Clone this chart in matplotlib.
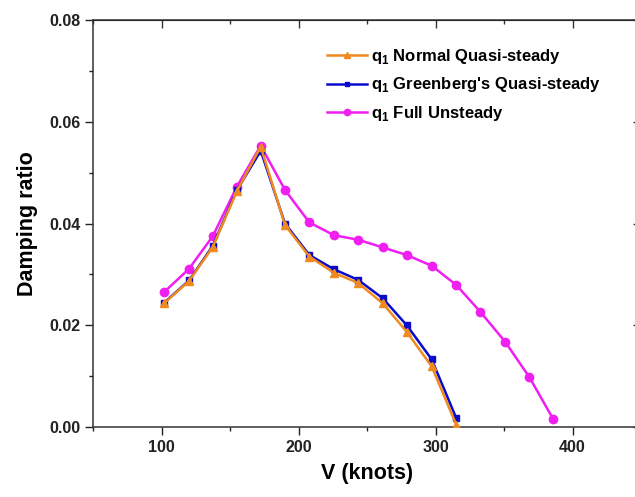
import matplotlib
matplotlib.use("Agg")
import matplotlib.pyplot as plt
from matplotlib.ticker import MultipleLocator, FormatStrFormatter

plt.rcParams['font.family'] = ['Liberation Sans', 'DejaVu Sans']
plt.rcParams['font.weight'] = 'bold'
plt.rcParams['mathtext.fontset'] = 'custom'
plt.rcParams['mathtext.rm'] = 'Liberation Sans:bold'
plt.rcParams['mathtext.bf'] = 'Liberation Sans:bold'

# speeds (knots)
v_quasi = [101.8, 120.1, 137.4, 154.9, 172.4, 190.1, 207.9, 225.9, 243.6, 261.5, 279.0, 297.2, 315.2]
v_full = [101.8, 120.1, 137.4, 154.9, 172.4, 190.1, 207.9, 225.9, 243.6, 261.5, 279.0, 297.2, 315.2,
          332.5, 350.7, 368.5, 386.0]

# damping ratios
z_normal = [0.0243, 0.0287, 0.0354, 0.0463, 0.0551, 0.0397, 0.0335, 0.0303, 0.0283, 0.0243, 0.0187,
            0.0119, 0.0004]
z_greenberg = [0.0244, 0.0288, 0.0356, 0.0465, 0.0543, 0.0400, 0.0338, 0.0310, 0.0289, 0.0253, 0.0200,
               0.0133, 0.0017]
z_full = [0.0265, 0.0311, 0.0375, 0.0472, 0.0553, 0.0466, 0.0402, 0.0377, 0.0368, 0.0353, 0.0338,
          0.0317, 0.0279, 0.0227, 0.0168, 0.0098, 0.0015]

labels = [r'q$_\mathbf{1}$ Normal Quasi-steady',
          r"q$_\mathbf{1}$ Greenberg's Quasi-steady",
          r'q$_\mathbf{1}$ Full Unsteady']

fig = plt.figure(figsize=(6.35, 4.97), dpi=100)
ax = fig.add_axes([0.1465, 0.1408, 0.863, 0.819])

ax.plot(v_full, z_full, color="#F01EF0", lw=1.8, marker="o", ms=6, label=labels[2], zorder=2)
ax.plot(v_quasi, z_greenberg, color="#0A0ACC", lw=1.8, marker="s", ms=4.5, label=labels[1], zorder=3)
ax.plot(v_quasi, z_normal, color="#F08A1E", lw=1.8, marker="^", ms=6, label=labels[0], zorder=4)

ax.set_xlim(50, 450)
ax.set_ylim(0, 0.08)
ax.xaxis.set_major_locator(MultipleLocator(100))
ax.xaxis.set_minor_locator(MultipleLocator(50))
ax.yaxis.set_major_locator(MultipleLocator(0.02))
ax.yaxis.set_minor_locator(MultipleLocator(0.01))
ax.yaxis.set_major_formatter(FormatStrFormatter('%.2f'))

for s in ax.spines.values():
    s.set_linewidth(1.1)
    s.set_color("#333333")

ax.tick_params(which='both', direction='out', top=False, right=False, labelsize=11.5, colors="#222222", width=1.0)
ax.tick_params(which='major', length=6, pad=3)
ax.tick_params(which='minor', length=3)

# mirrored inward ticks on top / right
axt = ax.secondary_xaxis('top')
axt.xaxis.set_major_locator(MultipleLocator(100))
axt.xaxis.set_minor_locator(MultipleLocator(50))
axt.tick_params(which='both', direction='in', labeltop=False, width=1.0, colors="#333333")
axt.tick_params(which='major', length=6)
axt.tick_params(which='minor', length=3)
axr = ax.secondary_yaxis('right')
axr.yaxis.set_major_locator(MultipleLocator(0.02))
axr.yaxis.set_minor_locator(MultipleLocator(0.01))
axr.tick_params(which='both', direction='in', labelright=False, width=1.0, colors="#333333")
axr.tick_params(which='major', length=6)
axr.tick_params(which='minor', length=3)

ax.set_xlabel("V (knots)", fontsize=15.5, fontweight='bold', labelpad=6)
ax.set_ylabel("Damping ratio", fontsize=15.5, fontweight='bold', labelpad=8)

handles, labs = ax.get_legend_handles_labels()
order = [2, 1, 0]
ax.legend([handles[i] for i in order], [labs[i] for i in order], loc='upper left',
          bbox_to_anchor=(0.40, 0.97), frameon=False, fontsize=12, handlelength=2.4,
          handletextpad=0.25, labelspacing=0.55, markerscale=0.75)

fig.savefig("out.png", dpi=100)
